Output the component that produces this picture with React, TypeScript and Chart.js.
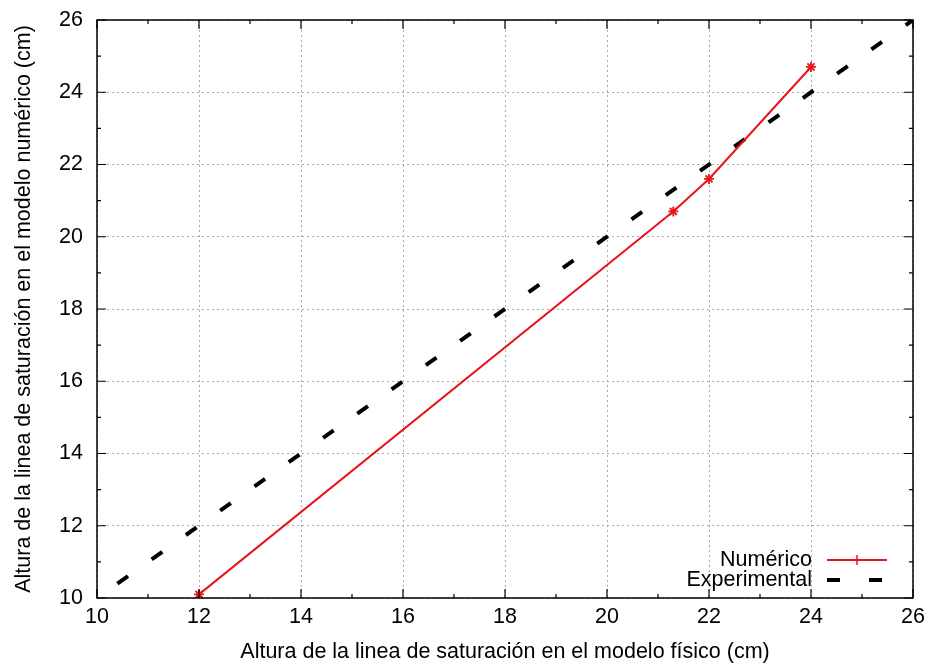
import React, { useEffect, useRef } from "react";
import { Chart, registerables } from "chart.js";

Chart.register(...registerables);

const numericoX = [12, 21.3, 22, 24];
const numericoY = [10.1, 20.7, 21.6, 24.7];
const experimentalX = [10.4, 26];
const experimentalY = [10.4, 26];
const xTicksMajor = [10, 12, 14, 16, 18, 20, 22, 24, 26];
const yTicksMajor = [10, 12, 14, 16, 18, 20, 22, 24, 26];
const minorTicks = [11, 13, 15, 17, 19, 21, 23, 25];
const seriesLabels = ["Numérico", "Experimental"];
const xTitle = "Altura de la linea de saturación en el modelo físico (cm)";
const yTitle = "Altura de la linea de saturación en el modelo numérico (cm)";

const FONT = "'Liberation Sans', Arial, Helvetica, sans-serif";
const FS = 21.5;

const framePlugin = {
  id: "framePlugin",
  afterDatasetsDraw(chart: any) {
    const { ctx, chartArea, scales } = chart;
    const { left, right, top, bottom } = chartArea;
    const xs = scales.x;
    const ys = scales.y;
    ctx.save();
    ctx.strokeStyle = "#000";
    ctx.lineWidth = 1.5;
    ctx.setLineDash([]);
    ctx.strokeRect(left, top, right - left, bottom - top);
    ctx.lineWidth = 1.2;
    const drawX = (v: number, len: number) => {
      const p = xs.getPixelForValue(v);
      ctx.beginPath();
      ctx.moveTo(p, bottom);
      ctx.lineTo(p, bottom - len);
      ctx.moveTo(p, top);
      ctx.lineTo(p, top + len);
      ctx.stroke();
    };
    const drawY = (v: number, len: number) => {
      const p = ys.getPixelForValue(v);
      ctx.beginPath();
      ctx.moveTo(left, p);
      ctx.lineTo(left + len, p);
      ctx.moveTo(right, p);
      ctx.lineTo(right - len, p);
      ctx.stroke();
    };
    xTicksMajor.forEach((v) => drawX(v, 9));
    yTicksMajor.forEach((v) => drawY(v, 9));
    minorTicks.forEach((v) => {
      drawX(v, 4);
      drawY(v, 4);
    });

    // legend
    const ds = chart.data.datasets;
    const textRight = 812;
    const sampleL = 827;
    const sampleR = 887;
    const rows = [560, 580];
    ctx.font = `${FS}px ${FONT}`;
    ctx.textAlign = "right";
    ctx.textBaseline = "middle";
    ctx.fillStyle = "#000";
    rows.forEach((y, i) => {
      ctx.fillText(ds[i].label, textRight, y);
      ctx.strokeStyle = ds[i].borderColor;
      ctx.lineWidth = ds[i].borderWidth;
      ctx.setLineDash(ds[i].borderDash || []);
      ctx.beginPath();
      ctx.moveTo(sampleL, y);
      ctx.lineTo(sampleR, y);
      ctx.stroke();
      if (i === 0) {
        ctx.setLineDash([]);
        ctx.lineWidth = 1.5;
        const cx = (sampleL + sampleR) / 2;
        ctx.beginPath();
        ctx.moveTo(cx, y - 5);
        ctx.lineTo(cx, y + 5);
        ctx.stroke();
      }
    });
    ctx.restore();
  },
};

export default function App() {
  const ref = useRef<HTMLCanvasElement>(null);
  useEffect(() => {
    if (!ref.current) return;
    const chart = new Chart(ref.current, {
      type: "scatter",
      data: {
        datasets: [
          {
            label: seriesLabels[0],
            data: numericoX.map((x, i) => ({ x, y: numericoY[i] })),
            showLine: true,
            borderColor: "#e8141c",
            backgroundColor: "#e8141c",
            borderWidth: 2,
            pointStyle: "star",
            pointRadius: 5,
            pointBorderWidth: 1.8,
          },
          {
            label: seriesLabels[1],
            data: experimentalX.map((x, i) => ({ x, y: experimentalY[i] })),
            showLine: true,
            borderColor: "#000",
            backgroundColor: "#000",
            borderWidth: 4,
            borderDash: [13, 29],
            pointRadius: 0,
          },
        ] as any,
      },
      options: {
        animation: false,
        responsive: false,
        maintainAspectRatio: false,
        layout: { padding: { top: 20, right: 18, left: 0, bottom: 0 } },
        plugins: { legend: { display: false }, tooltip: { enabled: false } },
        scales: {
          x: {
            type: "linear",
            min: 10,
            max: 26,
            afterBuildTicks: (s: any) => {
              s.ticks = xTicksMajor.map((v) => ({ value: v }));
            },
            ticks: { color: "#000", font: { family: FONT, size: FS }, padding: 6, maxRotation: 0 },
            grid: { color: "#aaa", lineWidth: 1, drawTicks: false },
            border: { display: false, dash: [2, 3] },
            title: { display: true, text: xTitle, color: "#000", font: { family: FONT, size: FS }, padding: { top: 0, bottom: 0 } },
            afterFit: (s: any) => {
              s.height = 67;
              s.paddingLeft = 0;
              s.paddingRight = 0;
            },
          },
          y: {
            type: "linear",
            min: 10,
            max: 26,
            afterBuildTicks: (s: any) => {
              s.ticks = yTicksMajor.map((v) => ({ value: v }));
            },
            ticks: { color: "#000", font: { family: FONT, size: FS }, padding: 14 },
            grid: { color: "#aaa", lineWidth: 1, drawTicks: false },
            border: { display: false, dash: [2, 3] },
            title: { display: true, text: yTitle, color: "#000", font: { family: FONT, size: FS }, padding: { top: 11, bottom: 0 } },
            afterFit: (s: any) => {
              s.width = 97;
              s.paddingTop = 0;
              s.paddingBottom = 0;
            },
          },
        },
      } as any,
      plugins: [framePlugin],
    });
    return () => chart.destroy();
  }, []);
  return (
    <div style={{ position: "fixed", left: 0, top: 0, width: 931, height: 665, background: "#fff" }}>
      <canvas ref={ref} width={931} height={665} style={{ width: 931, height: 665 }} />
    </div>
  );
}
